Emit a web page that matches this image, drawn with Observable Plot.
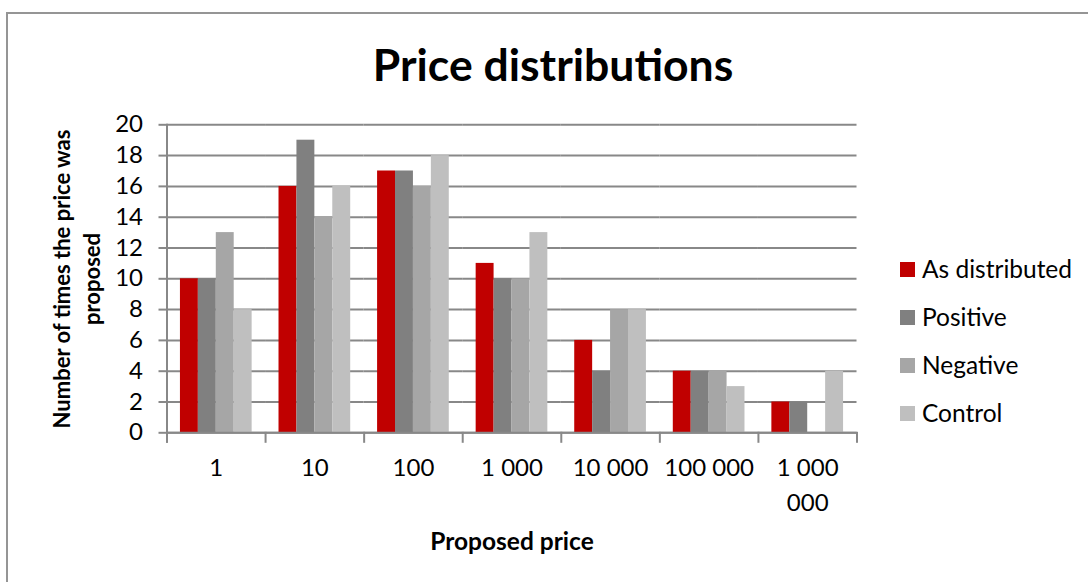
<!DOCTYPE html>
<html>
<head>
<meta charset="utf-8">
<script src="https://cdn.jsdelivr.net/npm/d3@7"></script>
<script src="https://cdn.jsdelivr.net/npm/@observablehq/plot@0.6"></script>
<style>
  html, body { margin: 0; padding: 0; background: #fff; }
  #chart { position: relative; width: 1088px; height: 582px; overflow: hidden; font-family: Lato, "Open Sans", sans-serif; color: #000; }
  #chart svg { position: absolute; left: 0; top: 0; }
  .box { position: absolute; left: 6px; top: 12px; width: 1200px; height: 700px; border: 2px solid #959595; box-sizing: border-box; }
  .title { position: absolute; left: 253px; width: 600px; top: 42px; text-align: center; font-weight: 700; font-size: 44.5px; line-height: 44px; white-space: nowrap; }
  .xlabel { position: absolute; left: 312px; width: 400px; top: 529px; text-align: center; font-weight: 700; font-size: 24.5px; line-height: 24px; white-space: nowrap; }
  .ylabel { position: absolute; left: -83px; width: 320px; top: 249px; height: 60px; text-align: center; font-weight: 700; font-size: 22px; line-height: 30px; transform: rotate(-90deg); transform-origin: 50% 50%; white-space: nowrap; }
  .legend { position: absolute; left: 900px; top: 245px; }
  .legend .row { display: flex; align-items: center; height: 48px; font-size: 24.5px; line-height: 24px; white-space: nowrap; }
  .legend .sw { width: 15px; height: 15px; margin-right: 7px; flex: none; }
</style>
</head>
<body>
<div id="chart">
  <div class="box"></div>
</div>
<script>
// Proposed prices (category axis) and how often each was proposed per condition
const categories = ["1", "10", "100", "1 000", "10 000", "100 000", "1 000 000"];
const seriesNames = ["As distributed", "Positive", "Negative", "Control"];
const asDistributed = [10, 16, 17, 11, 6, 4, 2];
const positive      = [10, 19, 17, 10, 4, 4, 2];
const negative      = [13, 14, 16, 10, 8, 4, 0];
const control       = [ 8, 16, 18, 13, 8, 3, 4];
const seriesColors  = ["#C00000", "#808080", "#A6A6A6", "#BFBFBF"];
const yTicks = [0, 2, 4, 6, 8, 10, 12, 14, 16, 18, 20];

const titleText = "Price distributions";
const xLabelText = "Proposed price";
const yLabelLines = ["Number of times the price was", "proposed"];

const seriesValues = [asDistributed, positive, negative, control];
const rows = categories.flatMap((price, i) =>
  seriesNames.map((series, j) => ({price, series, count: seriesValues[j][i]}))
);

// long category labels wrap onto a second line at the last space
const wrapLabel = (d) => {
  const s = String(d);
  if (s.length <= 7) return s;
  const k = s.lastIndexOf(" ");
  return s.slice(0, k) + "\n" + s.slice(k + 1);
};

const axisGray = "#888888";
const lineW = 2;
const plotHeight = 582 - 124.3 - 149.7;

const chart = Plot.plot({
  width: 1088,
  height: 582,
  marginLeft: 166.5,
  marginRight: 231.5,
  marginTop: 124.3,
  marginBottom: 149.7,
  style: {fontFamily: "Lato, 'Open Sans', sans-serif", fontSize: "24px", color: "#000", background: "transparent", overflow: "visible"},
  fx: {domain: categories, padding: 0, round: false, axis: null, label: null},
  x: {domain: seriesNames, paddingInner: 0, paddingOuter: 0.75, round: false, axis: null, label: null},
  y: {domain: [0, 20], axis: null, label: null},
  color: {domain: seriesNames, range: seriesColors},
  marks: [
    Plot.gridY(yTicks, {stroke: axisGray, strokeOpacity: 1, strokeWidth: lineW}),
    Plot.barY(rows, {fx: "price", x: "series", y: "count", fill: "series"}),
    Plot.ruleY([0], {stroke: axisGray, strokeWidth: lineW}),
    // y axis: ticks, labels and the vertical axis line on the leftmost panel
    Plot.axisY(yTicks, {anchor: "left", tickSize: 8, tickPadding: 16, stroke: axisGray, strokeWidth: lineW, fontSize: 24, label: null}),
    Plot.frame({anchor: "left", facetAnchor: "left", stroke: axisGray, strokeWidth: lineW, insetBottom: -9}),
    // category separators below the baseline
    Plot.frame({anchor: "left", stroke: axisGray, strokeWidth: lineW, insetTop: plotHeight, insetBottom: -9}),
    Plot.frame({anchor: "right", facetAnchor: "right", stroke: axisGray, strokeWidth: lineW, insetTop: plotHeight, insetBottom: -9}),
    // category labels
    Plot.axisFx({anchor: "bottom", tickSize: 0, tickPadding: 18, tickFormat: wrapLabel, fontSize: 24, lineHeight: 1.46, label: null})
  ]
});

const root = document.getElementById("chart");
root.appendChild(chart);

const title = document.createElement("div");
title.className = "title";
title.textContent = titleText;
root.appendChild(title);

const xl = document.createElement("div");
xl.className = "xlabel";
xl.textContent = xLabelText;
root.appendChild(xl);

const yl = document.createElement("div");
yl.className = "ylabel";
yl.innerHTML = yLabelLines.map((t) => `<div>${t}</div>`).join("");
root.appendChild(yl);

const legend = document.createElement("div");
legend.className = "legend";
seriesNames.forEach((name, i) => {
  const row = document.createElement("div");
  row.className = "row";
  const sw = document.createElement("span");
  sw.className = "sw";
  sw.style.background = seriesColors[i];
  const label = document.createElement("span");
  label.textContent = name;
  row.appendChild(sw);
  row.appendChild(label);
  legend.appendChild(row);
});
root.appendChild(legend);
</script>
</body>
</html>
